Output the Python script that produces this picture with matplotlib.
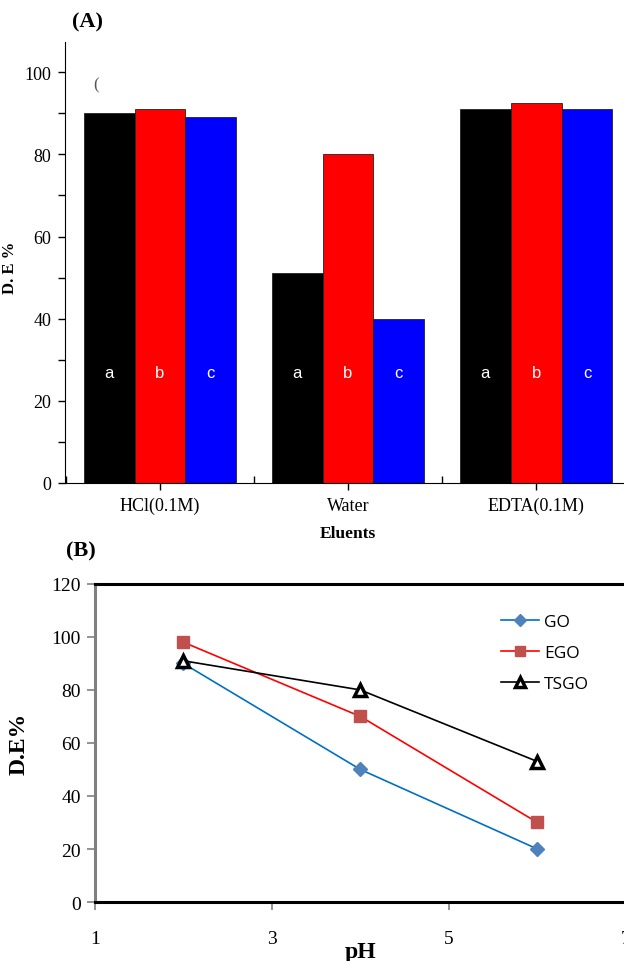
import matplotlib
matplotlib.use("Agg")
import matplotlib.pyplot as plt
import numpy as np
from matplotlib.ticker import MultipleLocator

# ---- Data panel A ----
eluents = ["HCl(0.1M)", "Water", "EDTA(0.1M)"]
series_a = [90, 51, 91]
series_b = [91, 80, 92.5]
series_c = [89, 40, 91]
bar_letters = ["a", "b", "c"]
bar_colors = ["#000000", "#ff0000", "#0000ff"]

# ---- Data panel B ----
ph = [2, 4, 6]
go = [90, 50, 20]
ego = [98, 70, 30]
tsgo = [91, 80, 53]

serif = "Liberation Serif"
fig = plt.figure(figsize=(6.24, 9.62), dpi=100)

# ---------------- Panel A ----------------
axA = fig.add_axes([0.104, 0.497, 0.906, 0.458])
x = np.arange(len(eluents))
w = 0.27
for i, (vals, col, let) in enumerate(zip([series_a, series_b, series_c], bar_colors, bar_letters)):
    pos = x + (i - 1) * w
    axA.bar(pos, vals, width=w, color=col, edgecolor="#222222", linewidth=0.6)
    for p in pos:
        axA.text(p, 27, let, color="white", ha="center", va="center",
                 fontsize=12, family="Liberation Sans")
axA.text(-0.34, 97, "(", color="#555555", fontsize=12, family=serif, ha="center", va="center")
axA.set_xlim(-0.505, 2.5)
axA.set_ylim(0, 107.3)
axA.set_xticks(x)
axA.set_xticklabels(eluents, family=serif, fontsize=13)
axA.xaxis.set_minor_locator(matplotlib.ticker.FixedLocator([-0.5, 0.5, 1.5, 2.5]))
axA.yaxis.set_major_locator(MultipleLocator(20))
axA.yaxis.set_minor_locator(MultipleLocator(10))
for lab in axA.get_yticklabels():
    lab.set_family(serif)
    lab.set_fontsize(13)
axA.tick_params(axis="both", which="major", direction="out", length=5, width=1, pad=5)
axA.tick_params(axis="both", which="minor", direction="out", length=5, width=1)
axA.tick_params(axis="x", which="minor", direction="in")
axA.spines["top"].set_visible(False)
axA.spines["right"].set_visible(False)
axA.set_ylabel("D. E %", family=serif, fontsize=12, fontweight="bold")
axA.yaxis.set_label_coords(-0.083, 0.49)
axA.set_xlabel("Eluents", family=serif, fontsize=12.5, fontweight="bold", labelpad=8)
fig.text(0.115, 0.977, "(A)", family=serif, fontsize=16, fontweight="bold", ha="left", va="center")

# ---------------- Panel B ----------------
axB = fig.add_axes([0.152, 0.0613, 0.851, 0.3307])
axB.plot(ph, go, color="#0070C0", lw=1.2, marker="D", ms=7, mfc="#4F81BD", mec="#4F81BD", label="GO")
axB.plot(ph, ego, color="#ff0000", lw=1.2, marker="s", ms=8, mfc="#C0504D", mec="#C0504D", label="EGO")
axB.plot(ph, tsgo, color="#000000", lw=1.2, marker="^", ms=9, mfc="white", mec="black", mew=2.5, label="TSGO")
axB.set_xlim(1, 7)
axB.set_ylim(0, 120)
axB.set_xticks([1, 3, 5, 7])
axB.set_yticks(range(0, 121, 20))
for lab in axB.get_xticklabels() + axB.get_yticklabels():
    lab.set_family(serif)
    lab.set_fontsize(14)
axB.tick_params(axis="y", direction="out", length=6, width=1.2, color="#808080", pad=4)
axB.tick_params(axis="x", direction="out", length=6, width=1.2, color="#808080", pad=14)
axB.spines["left"].set_color("#808080")
axB.spines["left"].set_linewidth(2.2)
axB.spines["top"].set_linewidth(2.2)
axB.spines["bottom"].set_linewidth(2.2)
axB.spines["right"].set_visible(False)
axB.set_ylabel("D.E%", family=serif, fontsize=17, fontweight="bold", labelpad=16)
axB.set_xlabel("pH", family=serif, fontsize=17, fontweight="bold", labelpad=-4)
leg = axB.legend(loc="upper left", bbox_to_anchor=(0.735, 0.955), frameon=False,
                 prop={"family": "Open Sans", "size": 12.5}, handlelength=2.2,
                 labelspacing=0.85, handletextpad=0.3, markerscale=0.85)
fig.text(0.105, 0.427, "(B)", family=serif, fontsize=16, fontweight="bold", ha="left", va="center")

fig.savefig("out.png", dpi=100)
